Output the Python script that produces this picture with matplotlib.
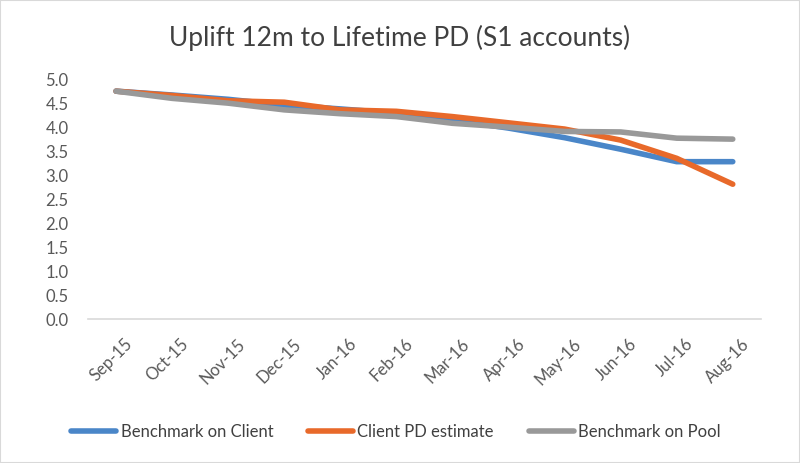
import matplotlib
matplotlib.use("Agg")
import matplotlib.pyplot as plt
import matplotlib.transforms as mtransforms
from matplotlib.patches import Rectangle

months = ["Sep-15", "Oct-15", "Nov-15", "Dec-15", "Jan-16", "Feb-16",
          "Mar-16", "Apr-16", "May-16", "Jun-16", "Jul-16", "Aug-16"]
bench_client = [4.75, 4.67, 4.58, 4.46, 4.38, 4.29, 4.15, 3.98, 3.78, 3.54, 3.28, 3.28]
client_pd = [4.75, 4.66, 4.55, 4.52, 4.36, 4.33, 4.22, 4.09, 3.96, 3.73, 3.35, 2.81]
bench_pool = [4.75, 4.60, 4.50, 4.36, 4.28, 4.22, 4.08, 4.00, 3.91, 3.90, 3.77, 3.75]
yticks = [0.0, 0.5, 1.0, 1.5, 2.0, 2.5, 3.0, 3.5, 4.0, 4.5, 5.0]

plt.rcParams['font.family'] = ['Lato', 'DejaVu Sans']

fig = plt.figure(figsize=(8, 4.63), dpi=100)
fig.patches.append(Rectangle((0, 0), 1, 1, transform=fig.transFigure,
                             fill=False, edgecolor='#d9d9d9', linewidth=1.5))
ax = fig.add_axes([0.11, 0.311, 0.841, 0.518])
x = list(range(len(months)))
ax.plot(x, bench_client, color='#4a86c8', lw=4, solid_capstyle='round', label='Benchmark on Client')
ax.plot(x, client_pd, color='#e8692a', lw=4, solid_capstyle='round', label='Client PD estimate')
ax.plot(x, bench_pool, color='#999999', lw=4, solid_capstyle='round', label='Benchmark on Pool')

ax.set_xlim(-0.5, len(months) - 0.5)
ax.set_ylim(0, 5.0)
ax.set_yticks(yticks)
ax.set_yticklabels([f"{v:.1f}" for v in yticks], fontsize=12, color='#595959')
ax.set_xticks(x)
ax.set_xticklabels(months, rotation=45, ha='right', rotation_mode='anchor',
                   fontsize=12, color='#595959')
ax.tick_params(axis='y', length=0, pad=14)
ax.tick_params(axis='x', length=0, pad=12)
offset = mtransforms.ScaledTranslation(6 / 72, 0, fig.dpi_scale_trans)
for lab in ax.get_xticklabels():
    lab.set_transform(lab.get_transform() + offset)
for s in ['top', 'right', 'left']:
    ax.spines[s].set_visible(False)
ax.spines['bottom'].set_color('#d9d9d9')
ax.spines['bottom'].set_linewidth(1.2)

fig.text(0.5, 0.918, "Uplift 12m to Lifetime PD (S1 accounts)", ha='center', va='center',
         fontsize=19, color='#404040')
fig.legend(loc='center', bbox_to_anchor=(0.495, 0.068), ncol=3, frameon=False,
           fontsize=12, handlelength=2.7, columnspacing=2.1, handletextpad=0.25,
           labelcolor='#404040')
fig.savefig("out.png", dpi=100)
